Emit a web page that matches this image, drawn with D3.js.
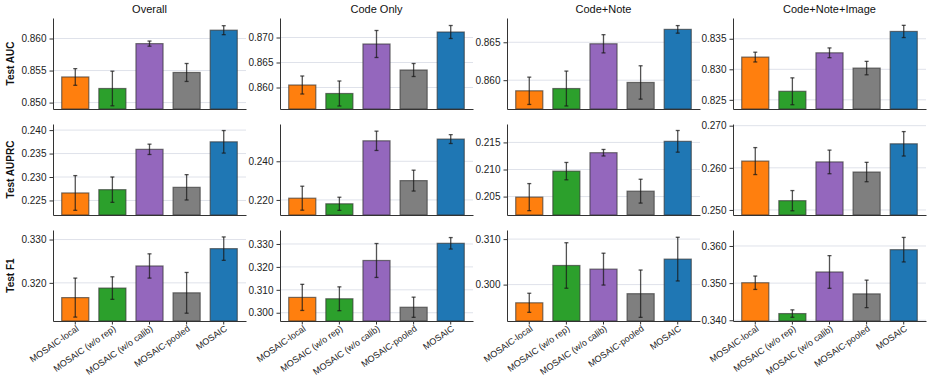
<!DOCTYPE html>
<html>
<head>
<meta charset="utf-8">
<script src="https://cdn.jsdelivr.net/npm/d3@7"></script>
<style>
  body { margin: 0; background: #fff; }
  svg text { font-family: "Liberation Sans", Arial, sans-serif; }
</style>
</head>
<body>
<div id="chart"></div>
<script>
/* --- データ --- */
const methods = ["MOSAIC-local", "MOSAIC (w/o rep)", "MOSAIC (w/o calib)", "MOSAIC-pooled", "MOSAIC"];
const colors = ["#ff7f0e", "#2ca02c", "#9467bd", "#7f7f7f", "#1f77b4"];
const settings = ["Overall", "Code Only", "Code+Note", "Code+Note+Image"];
const metrics = ["Test AUC", "Test AUPRC", "Test F1"];

// rows: settings, cols: methods
const aucMean = [
  [0.8540, 0.8522, 0.8592, 0.8547, 0.8613],
  [0.8605, 0.8588, 0.8687, 0.8635, 0.8711],
  [0.8586, 0.8589, 0.8648, 0.8597, 0.8667],
  [0.8320, 0.8264, 0.8327, 0.8302, 0.8362]
];
const aucErr = [
  [0.0013, 0.0027, 0.0004, 0.0014, 0.0007],
  [0.0018, 0.0025, 0.0027, 0.0013, 0.0013],
  [0.0018, 0.0023, 0.0012, 0.0022, 0.0005],
  [0.0008, 0.0022, 0.0008, 0.0011, 0.0010]
];
const auprcMean = [
  [0.2266, 0.2273, 0.2359, 0.2278, 0.2375],
  [0.2209, 0.2180, 0.2506, 0.2300, 0.2515],
  [0.2049, 0.2097, 0.2131, 0.2060, 0.2152],
  [0.2616, 0.2522, 0.2614, 0.2590, 0.2657]
];
const auprcErr = [
  [0.0037, 0.0027, 0.0011, 0.0027, 0.0024],
  [0.0062, 0.0034, 0.0050, 0.0054, 0.0023],
  [0.0025, 0.0016, 0.0006, 0.0022, 0.0020],
  [0.0032, 0.0024, 0.0028, 0.0023, 0.0029]
];
const f1Mean = [
  [0.3166, 0.3188, 0.3239, 0.3177, 0.3279],
  [0.3067, 0.3061, 0.3228, 0.3024, 0.3303],
  [0.2960, 0.3042, 0.3034, 0.2980, 0.3056],
  [0.3501, 0.3418, 0.3530, 0.3471, 0.3590]
];
const f1Err = [
  [0.0045, 0.0026, 0.0028, 0.0047, 0.0027],
  [0.0057, 0.0052, 0.0074, 0.0044, 0.0025],
  [0.0021, 0.0050, 0.0035, 0.0052, 0.0048],
  [0.0018, 0.0010, 0.0044, 0.0037, 0.0033]
];

/* --- 軸の範囲と目盛り --- */
const aucYlim = [[0.8490, 0.8632], [0.8557, 0.8739], [0.8562, 0.8682], [0.8235, 0.8384]];
const auprcYlim = [[0.2219, 0.2413], [0.2122, 0.2593], [0.2016, 0.2184], [0.2488, 0.2704]];
const f1Ylim = [[0.3112, 0.3322], [0.2964, 0.3361], [0.2920, 0.3120], [0.3398, 0.3643]];

const aucTicks = [[0.850, 0.855, 0.860], [0.860, 0.865, 0.870], [0.860, 0.865], [0.825, 0.830, 0.835]];
const auprcTicks = [[0.225, 0.230, 0.235, 0.240], [0.220, 0.240], [0.205, 0.210, 0.215], [0.250, 0.260, 0.270]];
const f1Ticks = [[0.320, 0.330], [0.300, 0.310, 0.320, 0.330], [0.300, 0.310], [0.340, 0.350, 0.360]];

const metricData = [
  {mean: aucMean, err: aucErr, ylim: aucYlim, ticks: aucTicks},
  {mean: auprcMean, err: auprcErr, ylim: auprcYlim, ticks: auprcTicks},
  {mean: f1Mean, err: f1Err, ylim: f1Ylim, ticks: f1Ticks}
];

/* --- レイアウト --- */
const width = 933, height = 381;
const colLeft = [53, 280, 507, 733];
const rowTop = [18, 124, 230];
const panelW = 193, panelH = 91;

const svg = d3.select("#chart").append("svg")
  .attr("width", width)
  .attr("height", height);

const xScale = d3.scaleBand()
  .domain(methods)
  .range([0, panelW])
  .paddingInner(0.27)
  .paddingOuter(0.235);

metricData.forEach((m, r) => {
  settings.forEach((s, c) => {
    const g = svg.append("g")
      .attr("transform", "translate(" + colLeft[c] + "," + rowTop[r] + ")");

    const yScale = d3.scaleLinear()
      .domain(m.ylim[c])
      .range([panelH, 0]);

    // grid
    g.append("g").selectAll("line")
      .data(m.ticks[c])
      .enter().append("line")
      .attr("x1", 0).attr("x2", panelW)
      .attr("y1", d => yScale(d)).attr("y2", d => yScale(d))
      .attr("stroke", "#dfe2ea")
      .attr("stroke-width", 1);

    const rows = methods.map((name, i) => ({name: name, v: m.mean[c][i], e: m.err[c][i], col: colors[i]}));

    // bars
    g.append("g").selectAll("rect")
      .data(rows)
      .enter().append("rect")
      .attr("x", d => xScale(d.name))
      .attr("width", xScale.bandwidth())
      .attr("y", d => yScale(d.v))
      .attr("height", d => panelH - yScale(d.v))
      .attr("fill", d => d.col)
      .attr("stroke", "#333")
      .attr("stroke-opacity", 0.65)
      .attr("stroke-width", 1.2);

    // error bars
    const eb = g.append("g").selectAll("g")
      .data(rows)
      .enter().append("g")
      .attr("stroke", "#1a1a1a")
      .attr("stroke-opacity", 0.75)
      .attr("stroke-width", 1.3);
    const cx = d => xScale(d.name) + xScale.bandwidth() / 2;
    eb.append("line")
      .attr("x1", cx).attr("x2", cx)
      .attr("y1", d => yScale(d.v - d.e))
      .attr("y2", d => yScale(d.v + d.e));
    [-1, 1].forEach(sgn => {
      eb.append("line")
        .attr("x1", d => cx(d) - 2).attr("x2", d => cx(d) + 2)
        .attr("y1", d => yScale(d.v + sgn * d.e))
        .attr("y2", d => yScale(d.v + sgn * d.e));
    });

    // y axis
    const yAxis = d3.axisLeft(yScale)
      .tickValues(m.ticks[c])
      .tickFormat(d3.format(".3f"))
      .tickSize(3.5)
      .tickPadding(3)
      .tickSizeOuter(0);
    const ya = g.append("g").call(yAxis);
    ya.select(".domain").attr("stroke", "#333").attr("stroke-width", 1);
    ya.selectAll(".tick line").attr("stroke", "#333");
    ya.selectAll(".tick text").attr("font-size", 10).attr("fill", "#222");

    // x axis
    const xAxis = d3.axisBottom(xScale)
      .tickSize(r === 2 ? 3.5 : 0)
      .tickSizeOuter(0)
      .tickFormat(r === 2 ? (d => d) : "");
    const xa = g.append("g")
      .attr("transform", "translate(0," + panelH + ")")
      .call(xAxis);
    xa.select(".domain").attr("stroke", "#333").attr("stroke-width", 1);
    xa.selectAll(".tick line").attr("stroke", "#333");
    if (r === 2) {
      xa.selectAll(".tick text")
        .attr("font-size", 9)
        .attr("fill", "#222")
        .attr("text-anchor", "end")
        .attr("y", 0).attr("dy", 0)
        .attr("transform", "translate(4,9) rotate(-35)");
    }

    // titles
    if (r === 0) {
      g.append("text")
        .attr("x", panelW / 2)
        .attr("y", -5)
        .attr("text-anchor", "middle")
        .attr("font-size", 11)
        .attr("fill", "#111")
        .text(s);
    }
    if (c === 0) {
      g.append("text")
        .attr("transform", "translate(" + (14 - colLeft[0]) + "," + (panelH / 2) + ") rotate(-90)")
        .attr("text-anchor", "middle")
        .attr("font-size", 10)
        .attr("font-weight", "bold")
        .attr("fill", "#111")
        .text(metrics[r]);
    }
  });
});
</script>
</body>
</html>
